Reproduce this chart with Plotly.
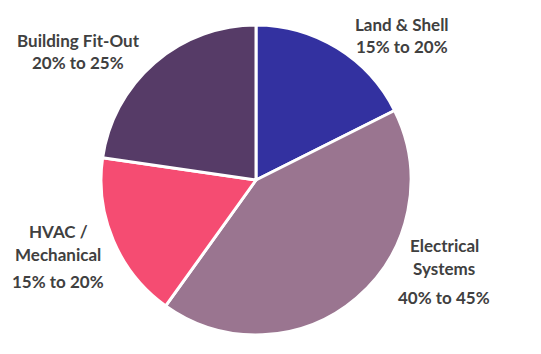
import plotly.graph_objects as go

categories = ["Land & Shell", "Electrical Systems", "HVAC / Mechanical", "Building Fit-Out"]
values = [17.6, 42.3, 17.4, 22.7]
colors = ["#3331A0", "#9A7590", "#F54C72", "#563B67"]
label_lines = [
    ["Land & Shell", "15% to 20%"],
    ["Electrical", "Systems", "40% to 45%"],
    ["HVAC /", "Mechanical", "15% to 20%"],
    ["Building Fit-Out", "20% to 25%"],
]

W, H = 541, 354

fig = go.Figure(go.Pie(
    labels=categories,
    values=values,
    sort=False,
    direction="clockwise",
    rotation=0,
    marker=dict(colors=colors, line=dict(color="white", width=3)),
    textinfo="none",
    hoverinfo="label+percent",
    domain=dict(x=[101 / W, 411 / W], y=[19 / H, 329 / H]),
    showlegend=False,
))

# label positions (pixel centres) for each category line
label_pos = [
    (402, [24, 47]),
    (444, [245, 268, 297]),
    (58, [232, 254, 281]),
    (78, [41, 63]),
]

annotations = []
for lines, (px, ys) in zip(label_lines, label_pos):
    for txt, py in zip(lines, ys):
        annotations.append(dict(
            x=px / W, y=1 - py / H, xref="paper", yref="paper",
            text=txt, showarrow=False, xanchor="center", yanchor="middle",
            font=dict(family="Lato", size=17, color="#404040", weight=700),
        ))

fig.update_layout(
    width=W, height=H,
    margin=dict(l=0, r=0, t=0, b=0),
    paper_bgcolor="white", plot_bgcolor="white",
    annotations=annotations,
)

fig.write_html("out.html")
